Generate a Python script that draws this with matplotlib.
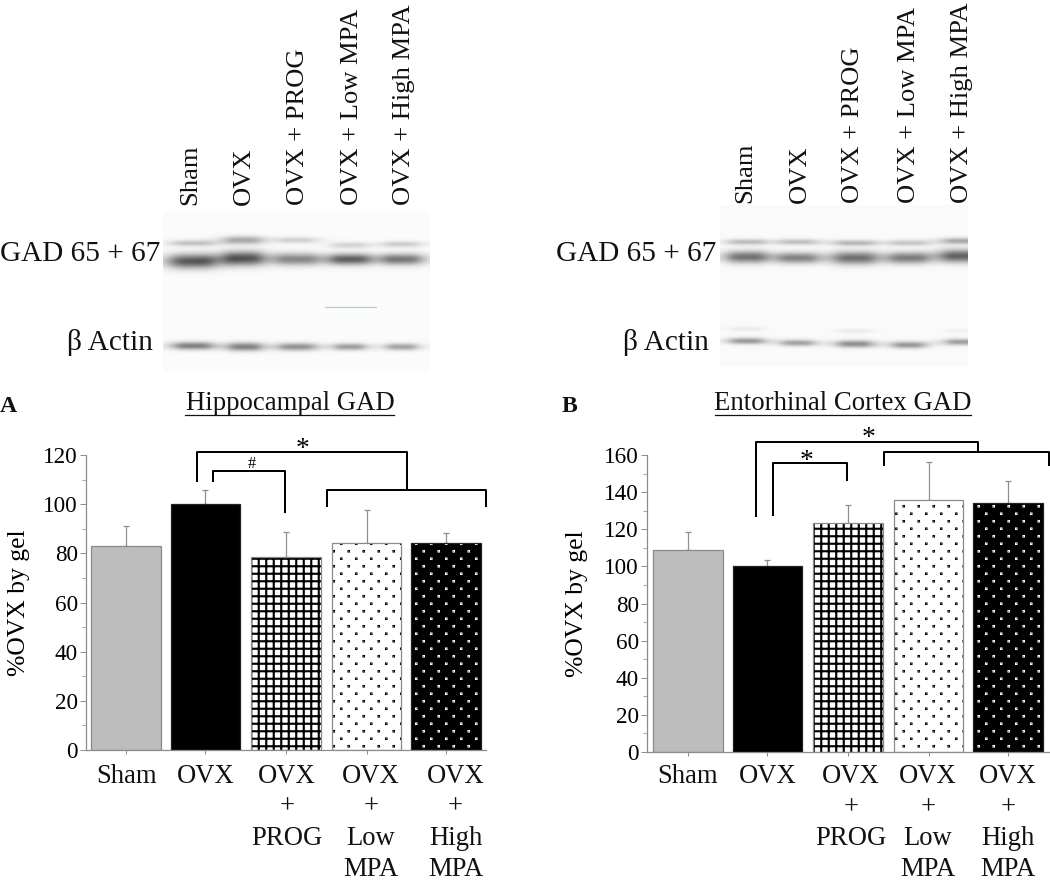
import numpy as np
import matplotlib
matplotlib.use("Agg")
import matplotlib.pyplot as plt
import matplotlib.hatch as mhatch
from matplotlib.path import Path

W, H, DPI = 1050, 883, 90
FONT = "Liberation Serif"

# ---------- data ----------
categories = ["Sham", "OVX", "OVX\n+\nPROG", "OVX\n+\nLow\nMPA", "OVX\n+\nHigh\nMPA"]
lane_labels = ["Sham", "OVX", "OVX + PROG", "OVX + Low MPA", "OVX + High MPA"]
hip_values = [83, 100, 78.7, 84.3, 84.3]
hip_errors = [8.2, 5.7, 10.1, 13.2, 3.8]
ent_values = [109, 100, 123.3, 136, 134.3]
ent_errors = [9.3, 3.3, 10, 20, 11.7]
hip_pos = [0, 0.99, 2.0, 3.01, 4.0]
ent_pos = [0, 0.99, 2.0, 3.01, 4.0]
hip_label_pos = [0.01, 1.0, 2.01, 3.06, 4.12]
ent_label_pos = [0, 1.0, 2.04, 3.0, 4.0]

# ---------- styles ----------
GREY = "#bdbdbd"
AXC = "#8c8c8c"


class StaggeredDots(mhatch.HatchPatternBase):
    """Square dots in rows with every other row shifted: selected by 'd'."""
    rows = 12
    cols = 6
    size = 0.005

    def __init__(self, hatch, density):
        self.on = hatch.count("d") > 0
        self.num_vertices = 5 * self.rows * self.cols if self.on else 0
        self.num_rows = self.rows

    def set_vertices_and_codes(self, vertices, codes):
        if not self.on:
            return
        s = self.size / 2
        i = 0
        for r in range(self.rows):
            for c in range(self.cols):
                x = (c + 0.5 * (r % 2) + 0.25) / self.cols
                y = (r + 0.5) / self.rows
                vertices[i:i + 5] = [(x - s, y - s), (x + s, y - s), (x + s, y + s),
                                     (x - s, y + s), (x - s, y - s)]
                codes[i:i + 5] = [Path.MOVETO, Path.LINETO, Path.LINETO,
                                  Path.LINETO, Path.CLOSEPOLY]
                i += 5


mhatch._hatch_types.append(StaggeredDots)
plt.rcParams["hatch.linewidth"] = 1.7
plt.rcParams["font.family"] = [FONT, "DejaVu Sans"]

fig = plt.figure(figsize=(W / DPI, H / DPI), dpi=DPI, facecolor="white")


def rect(l, t, r, b):
    return [l / W, 1 - b / H, (r - l) / W, (b - t) / H]


overlay = fig.add_axes([0, 0, 1, 1], zorder=5)
overlay.set_xlim(0, W)
overlay.set_ylim(H, 0)
overlay.axis("off")


def draw_chart(box, values, errors, pos, ymax, x_px, label_pos, ylabel_pad, label_drop):
    ax = fig.add_axes(rect(*box), zorder=2)
    ax.patch.set_alpha(0)
    width = 0.865
    ax.set_xlim(x_px[0], x_px[1])
    ax.set_ylim(0, ymax)
    faces = [GREY, "black", "white", "white", "black"]
    hatches = [None, None, "++", "d", "d"]
    hatch_col = ["none", "none", "black", "black", "white"]
    for p, v, e, f, h, hc in zip(pos, values, errors, faces, hatches, hatch_col):
        ax.errorbar(p, v, yerr=[[0], [e]], color="#8f8f8f", lw=1.0, capsize=2.5,
                    capthick=1.0, zorder=1)
        ax.bar(p, v, width=width, color=f, edgecolor=hc, hatch=h, lw=0, zorder=2)
        ax.bar(p, v, width=width, facecolor="none",
               edgecolor="#8a8a8a" if f != "black" else "#222222", lw=1.0, zorder=3)
    for s in ("top", "right"):
        ax.spines[s].set_visible(False)
    for s in ("left", "bottom"):
        ax.spines[s].set_color(AXC)
        ax.spines[s].set_linewidth(1.0)
    ax.set_xticks(pos)
    ax.set_xticklabels([])
    for lp, cat in zip(label_pos, categories):
        ax.annotate(cat, xy=(lp, 0), xycoords=("data", "axes fraction"),
                    xytext=(0, -label_drop), textcoords="offset points",
                    ha="center", va="top", fontsize=21.3, linespacing=1.32,
                    annotation_clip=False, color="#111111")
    ax.set_yticks(np.arange(0, ymax + 1, 20))
    ax.set_yticks(np.arange(0, ymax + 1, 10), minor=True)
    ax.tick_params(axis="y", which="major", length=5, color=AXC, labelsize=18.5, pad=1.5)
    ax.tick_params(axis="y", which="minor", length=3, color=AXC)
    ax.tick_params(axis="x", length=3, color=AXC)
    ax.set_ylabel("%OVX by gel", fontsize=20.5, labelpad=ylabel_pad)
    return ax


# pixel-calibrated x-limits so 1 category step equals 80 px
ax_a = draw_chart((86, 455, 486, 750), hip_values, hip_errors, hip_pos, 120,
                  ((86 - 126) / 80, (486 - 126) / 80), hip_label_pos, 10.5, 11)
ax_b = draw_chart((647, 455, 1049, 752), ent_values, ent_errors, ent_pos, 160,
                  ((647 - 688) / 80, (1049 - 688) / 80), ent_label_pos, 13, 9.5)

# ---------- gels ----------
gel_a_box = (163, 212, 430, 372)
gel_a_bands = [  # x-centre, half-width, y, half-height, darkness
    (193, 22, 244, 3, .22), (243, 20, 241, 4, .32), (297, 20, 241, 3, .16),
    (350, 19, 246, 3, .15), (402, 19, 245, 3, .18),
    (193, 24, 262, 7, .62), (243, 21, 259, 7, .62), (297, 23, 260, 6, .42),
    (350, 21, 260, 5.5, .58), (402, 21, 260, 5.5, .50),
    (193, 20, 346, 3.8, .48), (245, 17, 347, 4.2, .46), (297, 19, 347, 3.8, .40),
    (350, 16, 347, 3.4, .36), (402, 16, 347, 3.4, .34),
]
gel_b_box = (720, 205, 968, 367)
gel_b_bands = [
    (747, 20, 242, 3, .24), (798, 20, 242, 3, .22), (855, 21, 243, 3, .26),
    (909, 20, 243, 3, .20), (962, 20, 241, 3.2, .32),
    (747, 21, 257, 6, .52), (798, 21, 258, 5.5, .44), (855, 22, 258, 6.5, .52),
    (909, 21, 258, 5.8, .46), (962, 22, 256, 6.5, .58),
    (747, 18, 341, 3.2, .38), (798, 17, 343, 3.2, .34), (855, 18, 344, 3.6, .42),
    (909, 17, 345, 3.4, .38), (962, 17, 342, 3.2, .36),
    (747, 17, 329, 2.5, .06), (855, 17, 331, 2.5, .06), (962, 16, 331, 2.5, .04),
]


def draw_gel(box, bands):
    l, t, r, b = box
    xs, ys = np.meshgrid(np.arange(l, r) + .5, np.arange(t, b) + .5)
    img = np.full(xs.shape, 0.982)
    for xc, hw, yc, hh, d in bands:
        horiz = 1 / (1 + ((xs - xc) / hw) ** 4)
        vert = np.exp(-((ys - yc) / hh) ** 2)
        img -= d * horiz * vert
    img = np.clip(img, 0, 1)
    ax = fig.add_axes(rect(*box), zorder=1)
    ax.imshow(img, cmap="gray", vmin=0, vmax=1, aspect="auto", interpolation="bilinear")
    ax.axis("off")


draw_gel(gel_a_box, gel_a_bands)
draw_gel(gel_b_box, gel_b_bands)
overlay.plot([325, 376], [307, 307], color="#9fe89a", lw=1.0)

# ---------- text ----------
lane_a_x = [190, 244, 298, 352, 404]
lane_b_x = [745, 800, 853, 909, 962]
for xs, bottom in ((lane_a_x, 205), (lane_b_x, 203)):
    for x, s in zip(xs, lane_labels):
        overlay.text(x, bottom, s, rotation=90, ha="center", va="bottom", fontsize=21.2, color="#111111")

for x, y in ((80, 254), (636, 254)):
    overlay.text(x, y, "GAD 65 + 67", ha="center", va="center", fontsize=23.4, color="#111111")
for x, y in ((153, 342), (709, 342)):
    overlay.text(x, y, "β Actin", ha="right", va="center", fontsize=23.4, color="#111111")

overlay.text(0, 406, "A", fontsize=19, fontweight="bold", va="center", ha="left", color="#111111")
overlay.text(562, 406, "B", fontsize=19, fontweight="bold", va="center", ha="left", color="#111111")
for x, s, x0, x1 in ((290, "Hippocampal GAD", 185, 394), (843, "Entorhinal Cortex GAD", 715, 971)):
    overlay.text(x, 403, s, ha="center", va="center", fontsize=21.4, color="#111111")
    overlay.plot([x0, x1], [414.5, 414.5], color="#111111", lw=1.0)

# ---------- significance brackets ----------
brackets = [
    [(197, 482), (197, 452), (407, 452), (407, 490)],
    [(327, 507), (327, 490), (486, 490), (486, 507)],
    [(213, 482), (213, 471), (285, 471), (285, 513)],
    [(756, 517), (756, 442), (978, 442), (978, 452)],
    [(884, 466), (884, 452), (1049, 452), (1049, 466)],
    [(773, 516), (773, 463), (847, 463), (847, 481)],
]
for pts in brackets:
    px, py = zip(*pts)
    overlay.plot(px, py, color="black", lw=1.6, solid_joinstyle="round", solid_capstyle="butt")
for x, y, s, fs in ((303, 449, "*", 22), (252, 464, "#", 13), (869, 438, "*", 22), (807, 461, "*", 22)):
    overlay.text(x, y, s, ha="center", va="center", fontsize=fs, color="black")

fig.savefig("out.png", dpi=DPI)
